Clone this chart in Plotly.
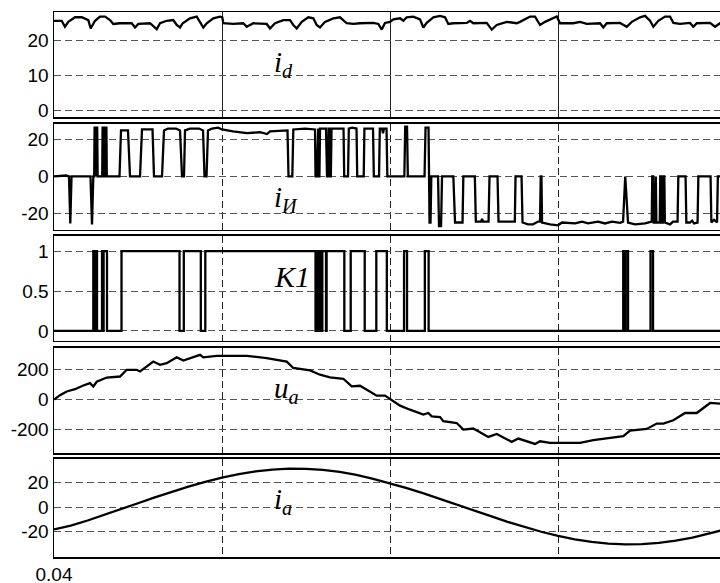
import plotly.graph_objects as go
from plotly.subplots import make_subplots

# ---------------- data (time in ms) ----------------
id_t = [40.000, 40.030, 40.229, 40.327, 40.426, 40.625, 40.824, 41.021, 41.092, 41.220, 41.369, 41.518,
        41.667, 41.765, 41.964, 42.313, 42.411, 42.509, 42.857, 43.057, 43.155, 43.354, 43.551, 43.652,
        43.750, 43.830, 44.048, 44.247, 44.345, 44.443, 44.545, 44.741, 44.940, 45.009, 45.039, 45.336,
        45.634, 45.735, 45.932, 46.330, 46.429, 46.577, 46.824, 47.024, 47.122, 47.223, 47.372, 47.568,
        47.717, 47.818, 47.917, 48.065, 48.313, 48.512, 48.711, 48.908, 49.107, 49.503, 49.652, 49.753,
        49.851, 50.000, 50.098, 50.298, 50.396, 50.497, 50.693, 50.893, 50.991, 51.092, 51.289, 51.488,
        51.637, 51.735, 51.884, 52.283, 52.381, 52.479, 52.878, 53.027, 53.176, 53.473, 53.771, 53.869,
        54.167, 54.315, 54.464, 54.613, 54.961, 55.060, 55.455, 55.655, 55.854, 56.250, 56.348, 56.449,
        56.845, 57.045, 57.193, 57.440, 57.589, 57.738, 57.836, 57.985, 58.185, 58.333, 58.432, 58.631,
        58.929, 59.027, 59.128, 59.524, 59.673, 59.821, 60.000]
id_v = [25.5, 25.5, 25.5, 23.8, 25.2, 26.5, 26.5, 25.7, 23.3, 25.5, 26.7, 26.7,
        25.7, 24.6, 24.8, 24.8, 23.6, 24.6, 24.8, 23.1, 24.8, 25.5, 25.7, 24.3,
        23.6, 24.8, 26.2, 26.7, 25.2, 23.6, 24.8, 26.2, 26.7, 26.5, 24.8, 24.6,
        24.8, 23.8, 24.8, 24.6, 23.3, 24.8, 25.7, 25.7, 24.3, 23.3, 25.2, 26.5,
        26.2, 24.3, 23.6, 25.2, 26.2, 26.5, 24.8, 24.6, 24.8, 24.9, 24.6, 23.0,
        24.9, 25.2, 25.9, 26.2, 25.5, 26.5, 26.7, 25.9, 23.6, 24.9, 26.5, 26.9,
        26.5, 24.6, 24.8, 24.9, 25.5, 24.8, 24.9, 23.0, 24.3, 25.2, 24.8, 25.2,
        26.7, 26.7, 24.3, 25.2, 26.7, 24.8, 24.8, 25.2, 24.6, 24.8, 23.6, 24.8,
        24.9, 23.8, 25.2, 26.5, 26.9, 25.5, 23.8, 25.5, 26.7, 26.7, 24.9, 24.6,
        24.9, 23.8, 24.8, 24.9, 23.8, 24.8, 24.8]

iu_t = [40.000, 40.238, 40.357, 40.446, 40.485, 40.521, 41.086, 41.131, 41.170, 41.196, 41.208, 41.232,
        41.244, 41.256, 41.268, 41.286, 41.298, 41.435, 41.446, 41.476, 41.488, 41.506, 41.518, 41.560,
        41.571, 41.949, 41.994, 42.202, 42.262, 42.560, 42.619, 42.932, 42.976, 43.214, 43.274, 43.393,
        43.631, 43.750, 43.810, 43.869, 43.899, 44.048, 44.315, 44.435, 44.479, 44.539, 44.583, 44.702,
        44.881, 45.000, 45.327, 45.744, 46.131, 46.339, 46.429, 46.726, 46.949, 46.979, 47.092, 47.122,
        47.470, 47.768, 47.783, 47.821, 47.842, 47.863, 47.881, 47.899, 47.917, 48.095, 48.125, 48.155,
        48.173, 48.196, 48.214, 48.238, 48.259, 48.616, 48.637, 48.750, 48.774, 48.869, 49.003, 49.024,
        49.217, 49.238, 49.494, 49.518, 49.673, 49.696, 49.762, 49.792, 49.821, 49.896, 49.920, 50.426,
        50.452, 50.506, 50.530, 51.027, 51.057, 51.146, 51.176, 51.205, 51.229, 51.429, 51.458, 51.518,
        51.548, 51.884, 51.935, 52.158, 52.182, 52.524, 52.554, 52.708, 52.738, 52.768, 52.932, 52.961,
        53.199, 53.229, 53.714, 53.735, 53.914, 53.943, 54.107, 54.256, 54.405, 54.464, 54.485, 54.506,
        54.524, 54.762, 55.000, 55.119, 55.506, 55.714, 55.893, 56.190, 56.399, 56.607, 56.845, 56.935,
        57.000, 57.083, 57.292, 57.589, 57.789, 57.804, 57.833, 57.848, 57.875, 57.890, 57.911, 57.926,
        58.027, 58.042, 58.065, 58.080, 58.116, 58.131, 58.164, 58.179, 58.333, 58.423, 58.557, 58.580,
        58.795, 58.818, 58.929, 58.988, 59.048, 59.152, 59.176, 59.539, 59.563, 59.643, 59.732, 59.756,
        60.000]
iu_v = [0, 0.5, 0.5, 0, -25.5, 0, 0, -26, 0, 0, 26.5, 26.5,
        0, 0, 26.5, 26.5, 0, 0, 26.5, 26.5, 0, 0, 26.5, 26.5,
        0, 0, 25, 25, 0, 0, 25.5, 25.5, 0, 0, 25, 26,
        26, 25, 0, 0, 25, 26, 26, 25, 0, 0, 25, 26,
        26.5, 25.5, 24.5, 23.5, 24, 23, 24.5, 25, 25, 0, 0, 25.5,
        26, 25.5, 0, 0, 26, 26, 0, 0, 26, 26, 0, 0,
        26, 26, 0, 0, 26, 26, 0, 0, 26, 26.5, 26, 0,
        0, 26, 26, 0, 0, 26, 26, 23.5, 26, 26, 0, 0,
        27, 27, 0, 0, 26.5, 26.5, -25, -25, 0, 0, -27, -27,
        0, 0, -25, -25, 0, 0, -24.5, -24.5, -23, -24.5, -24.5, 0,
        0, -24.5, -24.5, 0, 0, -25, -26, -26, -24.5, -24.5, 0, 0,
        -25, -26, -26.5, -25, -25.5, -24.5, -25.5, -24.5, -25.5, -24.5, -25.2, -24.5,
        0, -25, -26, -25.5, -24.5, 0, 0, -25, -25, 0, 0, -25,
        -25, 0, 0, -25, -25, 0, 0, -25, -26, -24.5, -24.5, 0,
        0, -25, -25, -24, -25.5, -25, 0, 0, -25, -23.5, -25, 0,
        0]

k1_t = [40.000, 41.170, 41.199, 41.229, 41.280, 41.429, 41.452, 41.476, 41.577, 42.009, 43.735, 43.863,
        44.369, 44.503, 47.783, 47.827, 47.851, 47.902, 47.967, 47.985, 48.095, 48.113, 48.640, 48.830,
        49.247, 49.592, 49.905, 50.417, 50.506, 51.036, 51.149, 56.940, 56.982, 57.012, 57.083, 57.753,
        57.827, 60.000]
k1_v = [0, 1, 0, 1, 0, 1, 0, 1, 0, 1, 0, 1,
        0, 1, 0, 1, 0, 1, 0, 1, 0, 1, 0, 1,
        0, 1, 0, 1, 0, 1, 0, 1, 0, 1, 0, 1,
        0, 0]

ua_t = [40.000, 40.179, 40.378, 40.625, 40.872, 41.071, 41.170, 41.271, 41.568, 41.964, 42.164, 42.461,
        42.560, 42.955, 43.155, 43.354, 43.652, 43.848, 44.345, 44.443, 44.842, 45.735, 46.330, 46.926,
        47.122, 47.619, 47.917, 48.214, 48.610, 48.860, 49.107, 49.307, 49.604, 49.851, 50.000, 50.298,
        50.595, 50.991, 51.140, 51.241, 51.488, 51.586, 51.985, 52.182, 52.479, 52.926, 53.176, 53.622,
        53.819, 54.315, 54.464, 54.762, 55.655, 56.051, 56.943, 57.143, 57.640, 57.938, 58.134, 58.432,
        58.780, 59.128, 59.524, 59.821, 60.000]
ua_v = [0, 30, 55, 70, 95, 111, 88, 120, 148, 155, 200, 200,
        189, 255, 233, 244, 284, 262, 300, 283, 293, 293, 278, 255,
        212, 196, 167, 149, 140, 89, 93, 67, 27, 27, 4, -40,
        -67, -100, -89, -111, -116, -144, -156, -200, -193, -249, -229, -282,
        -260, -296, -278, -289, -289, -271, -244, -207, -196, -160, -160, -138,
        -89, -89, -22, -27, -20]

ia_t = [40.0, 40.5, 41.0, 41.5, 42.0, 42.5, 43.0, 43.5, 44.0, 44.5, 45.0, 45.5, 46.0, 46.5,
        47.0, 47.5, 48.0, 48.5, 49.0, 49.5, 50.0, 50.5, 51.0, 51.5, 52.0, 52.5, 53.0, 53.5,
        54.0, 54.5, 55.0, 55.5, 56.0, 56.5, 57.0, 57.5, 58.0, 58.5, 59.0, 59.5, 60.0]
ia_v = [-18, -15, -10.8, -6.3, -1.5, 3.3, 8, 12.6, 16.8, 20.7, 24.2, 27, 29.2, 30.7,
        31.5, 31.4, 30.5, 28.8, 26.4, 23.2, 19.5, 15.6, 11.3, 6.8, 2.2, -2.6, -7.3, -11.9,
        -16.1, -20.0, -23.4, -26.2, -28.3, -29.7, -30.3, -30.1, -29.1, -27.3, -24.8, -21.7, -18]

y_ticks = [[0, 10, 20], [-20, 0, 20], [0, 0.5, 1], [-200, 0, 200], [-20, 0, 20]]
y_ticktext = [["0", "10", "20"], ["-20", "0", "20"], ["0", "0.5", "1"], ["-200", "0", "200"], ["-20", "0", "20"]]
y_ranges = [[-2, 28], [-29, 28.5], [-0.12, 1.19], [-357, 349], [-40.6, 39.6]]
x_grid = [0.040, 0.045, 0.050, 0.055]
x_ticktext = ["0.04", "", "", ""]
labels = ["<i>i<sub>d</sub></i>", "<i>i<sub>И</sub></i>", "<i>K1</i>", "<i>u<sub>a</sub></i>", "<i>i<sub>a</sub></i>"]

def sec(ms):
    return [v * 1e-3 for v in ms]

fig = make_subplots(rows=5, cols=1, shared_xaxes=True)
series = [(id_t, id_v, "linear"), (iu_t, iu_v, "linear"), (k1_t, k1_v, "hv"),
          (ua_t, ua_v, "linear"), (ia_t, ia_v, "linear")]
for i, (t, v, shp) in enumerate(series):
    fig.add_trace(go.Scatter(x=sec(t), y=v, mode="lines", line=dict(color="black", width=2.3, shape=shp),
                             showlegend=False, hoverinfo="skip"), row=i + 1, col=1)

domains = [[0.8065, 1.0], [0.6002, 0.7946], [0.3972, 0.5892], [0.1907, 0.3844], [0.0, 0.1803]]
label_y = [0.905, 0.657, 0.514, 0.307, 0.102]
label_size = [29, 29, 30, 29, 29]

tickfont = dict(family="Liberation Sans, Arial, sans-serif", size=19, color="black")
for i in range(5):
    n = "" if i == 0 else str(i + 1)
    fig.layout["yaxis" + n].update(
        domain=domains[i], range=y_ranges[i], tickvals=y_ticks[i], ticktext=y_ticktext[i],
        showgrid=True, gridcolor="#555555", griddash="7px,4px", gridwidth=1, zeroline=False,
        showline=True, linecolor="black", linewidth=1.5, mirror=False, ticks="", tickfont=tickfont,
        automargin=False, fixedrange=True)
    fig.layout["xaxis" + n].update(
        range=[0.040, 0.05982], tickvals=x_grid, ticktext=x_ticktext,
        showticklabels=(i == 4), showgrid=True, gridcolor="#222222",
        griddash="solid" if i == 0 else "7px,4px", gridwidth=1, zeroline=False,
        showline=True, linecolor="black", linewidth=1.5, mirror=True, ticks="", tickfont=tickfont,
        automargin=False, fixedrange=True)
    fig.add_annotation(text=labels[i], xref="paper", yref="paper", x=0.328, y=label_y[i],
                       xanchor="left", yanchor="middle", showarrow=False,
                       font=dict(family="Liberation Serif, Times New Roman, serif", size=label_size[i],
                                 color="black"))

fig.update_layout(width=720, height=583, margin=dict(l=54, r=0, t=12, b=26, autoexpand=False),
                  paper_bgcolor="white", plot_bgcolor="white", hovermode=False)
fig.write_html("out.html", config={"displayModeBar": False, "staticPlot": True},
               post_script="document.body.style.margin='0px';document.body.style.overflow='hidden';")
